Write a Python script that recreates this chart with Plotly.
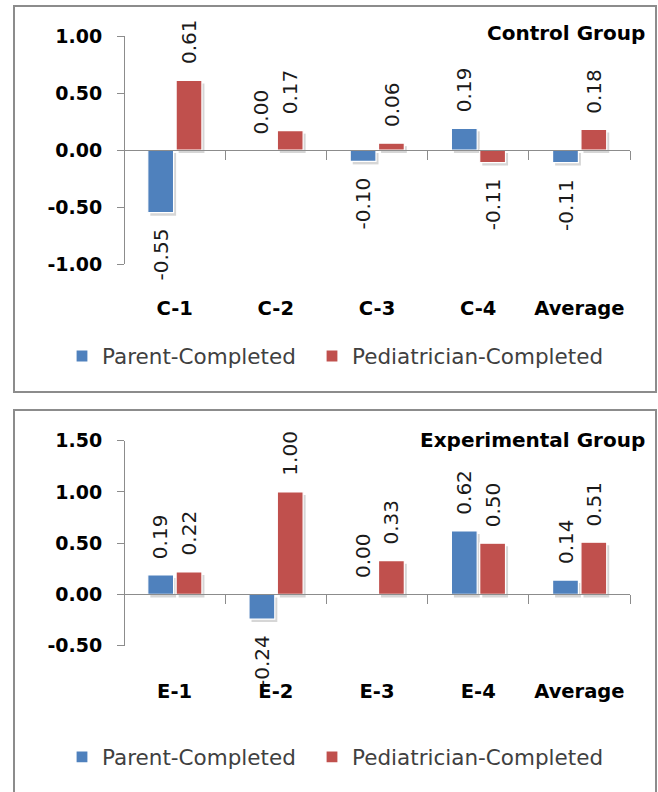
import plotly.graph_objects as go

# ---------------- data ----------------
series_names = ["Parent-Completed", "Pediatrician-Completed"]
series_colors = ["#4F81BD", "#C0504D"]

control_title = "Control Group"
control_categories = ["C-1", "C-2", "C-3", "C-4", "Average"]
control_parent = [-0.55, 0.00, -0.10, 0.19, -0.11]
control_pediatrician = [0.61, 0.17, 0.06, -0.11, 0.18]
control_ytick_vals = [-1.0, -0.5, 0.0, 0.5, 1.0]
control_ytick_text = ["-1.00", "-0.50", "0.00", "0.50", "1.00"]

experimental_title = "Experimental Group"
experimental_categories = ["E-1", "E-2", "E-3", "E-4", "Average"]
experimental_parent = [0.19, -0.24, 0.00, 0.62, 0.14]
experimental_pediatrician = [0.22, 1.00, 0.33, 0.50, 0.51]
experimental_ytick_vals = [-0.5, 0.0, 0.5, 1.0, 1.5]
experimental_ytick_text = ["-0.50", "0.00", "0.50", "1.00", "1.50"]

# ---------------- style constants ----------------
W, H = 658, 792
FONT = "DejaVu Sans"
BAR_W = 0.255
BAR_OFFS = [-0.265, 0.015]   # left edge of each series' bar, per category
SHADOW_DX = 0.025


def py(px):
    return 1 - px / H


def px_(x):
    return x / W


panels = [
    dict(title=control_title, cats=control_categories,
         vals=[control_parent, control_pediatrician],
         tv=control_ytick_vals, tt=control_ytick_text,
         yrange=[-1.0, 1.0], top=36, bottom=264, standoff=141,
         title_y=33, legend_y=356, box=(14, 6, 656, 392)),
    dict(title=experimental_title, cats=experimental_categories,
         vals=[experimental_parent, experimental_pediatrician],
         tv=experimental_ytick_vals, tt=experimental_ytick_text,
         yrange=[-0.5, 1.5], top=440.7, bottom=645.7, standoff=79,
         title_y=440, legend_y=757, box=(14, 410, 656, 800)),
]
legend_text_x = [102, 352]

fig = go.Figure()
annotations = []
shapes = []
layout_axes = {}
leg_count = 0

for p_i, p in enumerate(panels):
    sfx = "" if p_i == 0 else str(p_i + 1)
    xname, yname = "x" + sfx, "y" + sfx
    idx = list(range(len(p["cats"])))
    r0, r1 = p["yrange"]
    px_per_unit = (p["bottom"] - p["top"]) / (r1 - r0)
    shadow_dy = 3.0 / px_per_unit
    # shadows first (drawn behind)
    for s_i in range(len(series_names)):
        fig.add_trace(go.Bar(
            x=idx, y=p["vals"][s_i], base=-shadow_dy,
            width=BAR_W, offset=BAR_OFFS[s_i] + SHADOW_DX,
            marker=dict(color="rgba(0,0,0,0.16)", line=dict(width=0)),
            xaxis=xname, yaxis=yname, showlegend=False, hoverinfo="skip",
        ))
    for s_i, (name, col) in enumerate(zip(series_names, series_colors)):
        leg_count += 1
        legname = "legend" if leg_count == 1 else f"legend{leg_count}"
        fig.add_trace(go.Bar(
            x=idx, y=p["vals"][s_i], name=name,
            width=BAR_W, offset=BAR_OFFS[s_i],
            marker=dict(color=col, line=dict(color="white", width=1.2)),
            xaxis=xname, yaxis=yname, legend=legname,
            hoverinfo="skip",
        ))
        layout_axes[legname] = dict(
            orientation="h", x=px_(legend_text_x[s_i] - 40), xanchor="left",
            y=py(p["legend_y"]), yanchor="middle",
            font=dict(family=FONT, size=21.5, color="#404040"),
            bgcolor="rgba(0,0,0,0)", borderwidth=0,
            itemclick=False, itemdoubleclick=False,
        )
        center = BAR_OFFS[s_i] + BAR_W / 2
        for i, v in zip(idx, p["vals"][s_i]):
            annotations.append(dict(
                x=i + center, y=v, xref=xname, yref=yname,
                text=f"{v:.2f}", showarrow=False, textangle=-90,
                font=dict(family=FONT, size=20, color="#1a1a1a"),
                xanchor="center",
                yanchor="bottom" if v >= 0 else "top",
                yshift=14 if v >= 0 else -14,
            ))
    d0, d1 = py(p["bottom"]), py(p["top"])
    zero_pos = d0 + (0 - r0) / (r1 - r0) * (d1 - d0)
    layout_axes["xaxis" + sfx] = dict(
        domain=[px_(124), px_(630)], range=[-0.5, len(idx) - 0.5],
        anchor="free", position=zero_pos, automargin=False,
        tickvals=idx, ticktext=p["cats"], ticks="",
        ticklabelstandoff=p["standoff"],
        tickfont=dict(family=FONT, size=19.5, color="black", weight="bold"),
        showline=True, linecolor="#8c8c8c", linewidth=1,
        showgrid=False, zeroline=False, fixedrange=True,
        minor=dict(tickvals=[i + 0.5 for i in idx], ticks="outside",
                   ticklen=9, tickcolor="#8c8c8c", tickwidth=1,
                   showgrid=False),
    )
    layout_axes["yaxis" + sfx] = dict(
        domain=[d0, d1], range=p["yrange"], anchor="free",
        position=px_(124), automargin=False,
        tickvals=p["tv"], ticktext=p["tt"], ticks="outside", ticklen=7,
        tickcolor="#8c8c8c", ticklabelstandoff=11,
        tickfont=dict(family=FONT, size=19, color="black", weight="bold"),
        showline=True, linecolor="#8c8c8c", linewidth=1,
        showgrid=False, zeroline=False, fixedrange=True,
    )
    annotations.append(dict(
        x=px_(647), y=py(p["title_y"]), xref="paper", yref="paper",
        text=p["title"], showarrow=False, xanchor="right", yanchor="middle",
        font=dict(family=FONT, size=20, color="black", weight="bold"),
    ))
    bx0, by0, bx1, by1 = p["box"]
    shapes.append(dict(
        type="rect", xref="paper", yref="paper",
        x0=px_(bx0), x1=px_(bx1), y0=py(by1), y1=py(by0),
        line=dict(color="#8c8c8c", width=2), fillcolor="rgba(0,0,0,0)",
    ))

fig.update_layout(
    width=W, height=H, margin=dict(l=0, r=0, t=0, b=0, autoexpand=False),
    paper_bgcolor="white", plot_bgcolor="white",
    barmode="overlay",
    annotations=annotations, shapes=shapes, showlegend=True,
    **layout_axes,
)

fig.write_html(
    "out.html",
    config={"displayModeBar": False},
    post_script="document.body.style.margin='0';document.body.style.padding='0';"
                "document.body.style.overflow='hidden';",
)
